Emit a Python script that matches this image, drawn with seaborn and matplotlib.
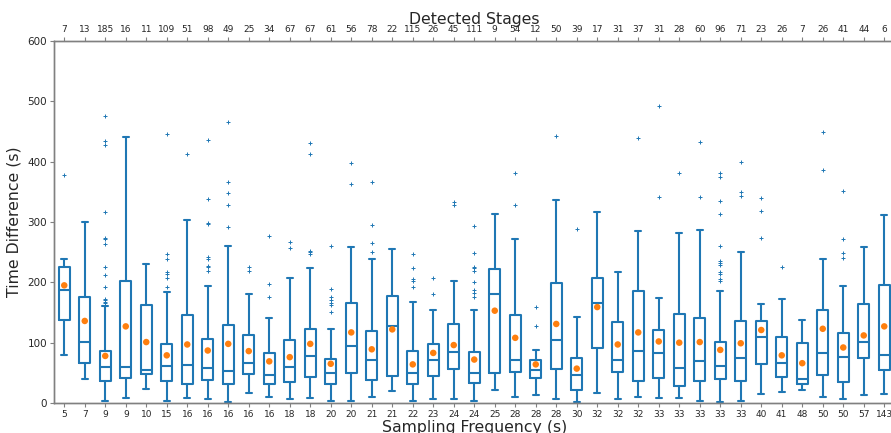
import matplotlib
matplotlib.use("Agg")
import matplotlib.pyplot as plt
import seaborn as sns
import numpy as np

freq_labels = ["5", "7", "9", "9", "10", "15", "16", "16", "16", "16", "16", "18", "18", "20", "20",
               "21", "21", "22", "23", "24", "24", "25", "28", "28", "28", "30", "32", "32", "32",
               "33", "33", "33", "33", "33", "40", "41", "48", "50", "50", "57", "143"]
stage_labels = ["7", "13", "185", "16", "11", "109", "51", "98", "49", "25", "34", "67", "67", "61",
                "56", "78", "22", "115", "26", "45", "111", "9", "54", "12", "50", "39", "17", "31",
                "37", "31", "28", "60", "96", "71", "23", "26", "7", "26", "41", "44", "6"]

whis_lo = [79, 39, 3, 8, 24, 3, 9, 6, 1, 17, 10, 7, 8, 4, 4, 10, 20, 4, 7, 7,
           4, 22, 10, 13, 7, 1, 16, 6, 10, 8, 8, 4, 1, 4, 15, 19, 22, 10, 7, 13, 15]
q1 = [137, 67, 36, 42, 48, 36, 32, 38, 31, 48, 31, 34, 43, 32, 50, 38, 44, 31, 44, 57,
      33, 49, 52, 41, 56, 22, 91, 51, 36, 41, 29, 37, 40, 36, 65, 43, 31, 47, 34, 74, 54]
median = [187, 101, 59, 59, 54, 61, 63, 58, 53, 67, 47, 60, 78, 50, 94, 72, 127, 49, 72, 84,
          49, 181, 72, 55, 104, 47, 165, 72, 86, 83, 58, 69, 61, 74, 109, 67, 39, 83, 77, 101, 80]
q3 = [225, 176, 87, 203, 163, 97, 146, 106, 129, 112, 83, 104, 123, 73, 166, 119, 178, 87, 98, 131,
      85, 222, 146, 72, 199, 74, 207, 134, 186, 121, 148, 141, 101, 136, 136, 109, 99, 154, 116, 164, 195]
whis_hi = [239, 300, 161, 441, 231, 184, 303, 194, 260, 181, 141, 207, 224, 122, 258, 238, 256, 168, 154, 202,
           154, 314, 271, 88, 336, 143, 317, 217, 285, 174, 282, 286, 186, 250, 164, 172, 138, 238, 194, 259, 311]
means = [195, 136, 78, 127, 101, 79, 97, 87, 98, 86, 69, 76, 98, 65, 117, 89, 122, 64, 83, 96,
         72, 153, 108, 64, 131, 57, 159, 97, 117, 102, 100, 101, 88, 99, 121, 79, 66, 123, 92, 112, 127]
outliers = [
    [378],
    [],
    [475, 434, 427, 317, 273, 272, 264, 225, 212, 193, 173, 171, 167, 165],
    [],
    [],
    [446, 247, 239, 217, 213, 207, 193],
    [413],
    [436, 338, 299, 297, 242, 239, 227, 225, 219],
    [466, 367, 348, 329, 292],
    [225, 218],
    [276, 198, 176],
    [267, 257],
    [431, 412, 252, 250, 247],
    [261, 189, 176, 171, 165, 162, 151],
    [397, 363],
    [367, 295, 265, 251],
    [],
    [247, 223, 205, 203, 193],
    [208, 181],
    [333, 328],
    [294, 249, 226, 223, 218, 201, 187, 183, 176],
    [],
    [382, 328],
    [159, 128],
    [442],
    [288],
    [],
    [],
    [440],
    [492, 342],
    [381],
    [433, 342],
    [381, 374, 335, 313, 261, 235, 232, 228, 217, 214, 205, 202],
    [399, 349, 343],
    [339, 318, 274],
    [226],
    [],
    [450, 387],
    [352, 272, 248, 240],
    [],
    [],
]

sns.set_style("ticks")
plt.rcParams['font.family'] = ['DejaVu Sans']

W, H = 891, 433
fig = plt.figure(figsize=(W / 100, H / 100), dpi=100)
left, right, top, bottom = 54, 894.5, 41, 403
ax = fig.add_axes([left / W, (H - bottom) / H, (right - left) / W, (bottom - top) / H])

blue = "#1f77b4"
orange = "#ff7f0e"
n = len(freq_labels)
positions = np.arange(1, n + 1)
stats = []
for i in range(n):
    stats.append(dict(whislo=whis_lo[i], q1=q1[i], med=median[i], q3=q3[i],
                      whishi=whis_hi[i], fliers=outliers[i], mean=means[i]))

lw = 1.5
ax.bxp(stats, positions=positions, widths=0.55, showmeans=False,
       boxprops=dict(color=blue, linewidth=lw),
       whiskerprops=dict(color=blue, linewidth=lw),
       capprops=dict(color=blue, linewidth=lw),
       medianprops=dict(color=blue, linewidth=lw),
       flierprops=dict(marker="+", markeredgecolor=blue, markersize=3.5, markeredgewidth=0.7, linestyle="none"))

sns.scatterplot(x=positions, y=means, ax=ax, color=orange, s=22, edgecolor="none", zorder=5, legend=False)

ax.set_xlim(0.5, n + 0.5)
ax.set_ylim(0, 600)
ax.set_yticks(range(0, 601, 100))
ax.set_xticks(positions)
ax.set_xticklabels(freq_labels)
ax.tick_params(axis="x", labelsize=6.5, length=3, color="#808080", pad=2)
ax.tick_params(axis="y", labelsize=7.5, length=3, color="#808080", pad=2)
ax.set_xlabel("Sampling Frequency (s)", fontsize=11.3, labelpad=1)
ax.set_ylabel("Time Difference (s)", fontsize=11.3, labelpad=4)

ax2 = ax.twiny()
ax2.set_xlim(ax.get_xlim())
ax2.set_xticks(positions)
ax2.set_xticklabels(stage_labels)
ax2.tick_params(axis="x", labelsize=6.5, length=3, color="#808080", pad=2)
ax2.set_xlabel("Detected Stages", fontsize=11.3, labelpad=1)

for a in (ax, ax2):
    for s in a.spines.values():
        s.set_color("#808080")
        s.set_linewidth(1.0)

fig.savefig("out.png", dpi=100)
